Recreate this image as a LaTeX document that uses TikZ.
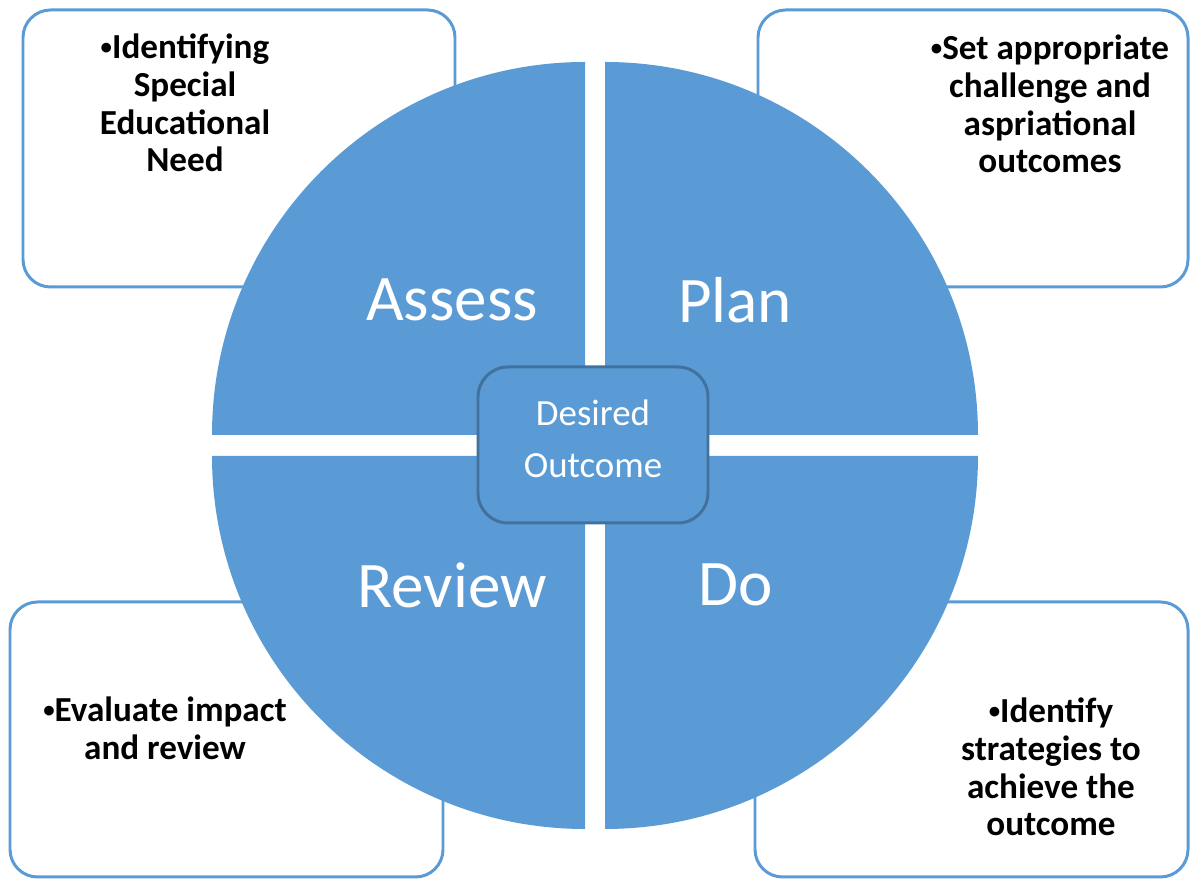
\documentclass[tikz,border=0pt]{standalone}
\usepackage{fontspec}
\setmainfont{Carlito}
\usetikzlibrary{positioning}
\definecolor{quadblue}{HTML}{5B9BD5}
\definecolor{edgeblue}{HTML}{41719C}
\newcommand{\notedot}{\raisebox{0.12em}{\fontsize{13}{13}\selectfont•}}

\begin{document}
\begin{tikzpicture}[
    notebox/.style={draw=quadblue, line width=1.7pt, fill=white, rounded corners=0.55cm},
    notetext/.style={align=center, font=\fontsize{20}{21.5}\selectfont\bfseries},
    quadlabel/.style={text=white, font=\fontsize{37}{44}\selectfont},
    centerbox/.style={draw=edgeblue, line width=1.7pt, fill=quadblue,
        rounded corners=0.6cm, minimum width=4.6cm, minimum height=3.12cm},
    centertext/.style={align=center, text=white, font=\fontsize{21}{29.5}\selectfont}
    ]
    \useasboundingbox (0,0) rectangle (23.8,17.58);

    % note boxes behind the circle
    \draw[notebox] (0.46,11.84) rectangle (9.1,17.38);
    \draw[notebox] (15.16,11.84) rectangle (23.76,17.38);
    \draw[notebox] (0.2,0.04) rectangle (8.86,5.54);
    \draw[notebox] (15.1,0.04) rectangle (23.76,5.54);

    \node[notetext] (identify) at (3.7,15.52) {\notedot Identifying\\Special\\Educational\\Need};
    \node[notetext] (setplan) at (21.0,15.5) {\notedot Set appropriate\\challenge and\\aspriational\\outcomes};
    \node[notetext] (evaluate) at (3.3,3.02) {\notedot Evaluate impact\\and review};
    \node[notetext] (strategies) at (21.02,2.24) {\notedot Identify\\strategies to\\achieve the\\outcome};

    % the four quarters
    \fill[quadblue] (11.7,8.88) -- (4.24,8.88) arc[start angle=180, end angle=90, radius=7.46] -- cycle;
    \fill[quadblue] (12.1,8.88) -- (12.1,16.34) arc[start angle=90, end angle=0, radius=7.46] -- cycle;
    \fill[quadblue] (11.7,8.46) -- (11.7,1.0) arc[start angle=270, end angle=180, radius=7.46] -- cycle;
    \fill[quadblue] (12.1,8.46) -- (19.56,8.46) arc[start angle=0, end angle=-90, radius=7.46] -- cycle;

    \node[quadlabel] (assess) at (9.04,11.58) {Assess};
    \node[quadlabel] (plan) at (14.7,11.58) {Plan};
    \node[quadlabel] (review) at (9.04,5.88) {Review};
    \node[quadlabel] (do) at (14.72,5.88) {Do};

    % middle
    \node[centerbox] (outcome) at (11.86,8.68) {};
    \node[centertext] (outcometext) at (11.86,8.8) {Desired\\Outcome};

\end{tikzpicture}
\end{document}
